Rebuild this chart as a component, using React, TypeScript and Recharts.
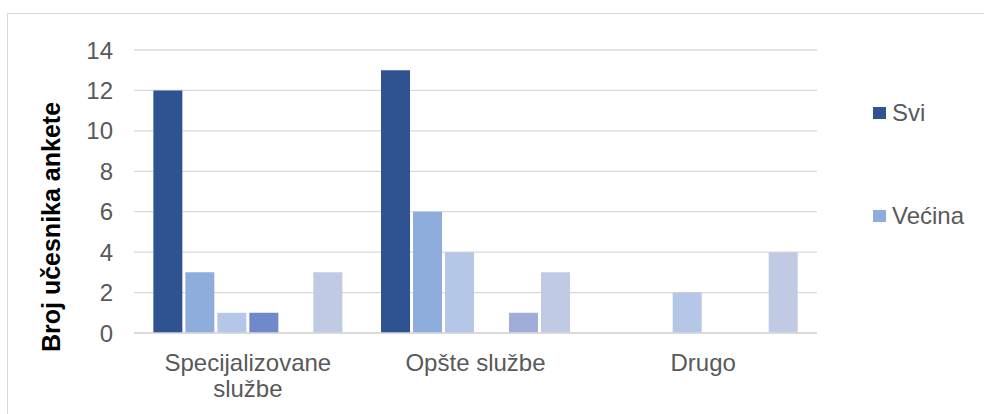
import { BarChart, Bar, XAxis, YAxis, CartesianGrid } from 'recharts';

const categories = ['Specijalizovane službe', 'Opšte službe', 'Drugo'];
const svi = [12, 13, 0];
const vecina = [3, 6, 0];
const polovina = [1, 4, 2];
const manjina = [1, 0, 0];
const malo = [0, 1, 0];
const nijedan = [3, 3, 4];
const yTicks = [0, 2, 4, 6, 8, 10, 12, 14];

const series = [
  { key: 'svi', name: 'Svi', color: '#2F5290', values: svi },
  { key: 'vecina', name: 'Većina', color: '#8FADDC', values: vecina },
  { key: 'polovina', name: 'Polovina', color: '#B4C7E7', values: polovina },
  { key: 'manjina', name: 'Manjina', color: '#6F89CB', values: manjina },
  { key: 'malo', name: 'Malo', color: '#9FADD8', values: malo },
  { key: 'nijedan', name: 'Nijedan', color: '#C0CAE5', values: nijedan },
];

// legenda je u originalu odsecena, vide se samo prve dve stavke
const legendShown = ['Svi', 'Većina'];

const data = categories.map((name, i) => {
  const row: Record<string, string | number> = { name };
  series.forEach((s) => {
    row[s.key] = s.values[i];
  });
  return row;
});

const FONT = '"Liberation Sans", Arial, sans-serif';

// dugacke nazive lomimo u dva reda kao Excel
function splitLabel(label: string) {
  if (label.length <= 14) return [label];
  const idx = label.lastIndexOf(' ');
  return [label.slice(0, idx), label.slice(idx + 1)];
}

function CategoryTick(props: any) {
  const { x, y, payload } = props;
  const lines = splitLabel(String(payload.value));
  return (
    <text x={x} y={y + 30} textAnchor="middle" fill="#595959" fontSize={24} fontFamily={FONT}>
      {lines.map((line, i) => (
        <tspan key={i} x={x} dy={i === 0 ? 0 : 26}>
          {line}
        </tspan>
      ))}
    </text>
  );
}

function YTitle() {
  const cx = 51;
  const cy = 227;
  return (
    <text
      x={cx}
      y={cy}
      transform={`rotate(-90, ${cx}, ${cy})`}
      textAnchor="middle"
      dominantBaseline="central"
      fill="#000"
      fontSize={25}
      fontWeight="bold"
      fontFamily={FONT}
    >
      Broj učesnika ankete
    </text>
  );
}

function LegendBox() {
  const items = series.filter((s) => legendShown.includes(s.name));
  return (
    <div style={{ position: 'absolute', left: 873, top: 99, fontFamily: FONT, fontSize: 24, color: '#595959' }}>
      {items.map((s, i) => (
        <div key={s.key} style={{ display: 'flex', alignItems: 'center', height: 28, marginTop: i === 0 ? 0 : 75 }}>
          <span style={{ display: 'inline-block', width: 13, height: 12, background: s.color, marginRight: 6 }} />
          <span>{s.name}</span>
        </div>
      ))}
    </div>
  );
}

export default function App() {
  return (
    <div style={{ position: 'absolute', left: 0, top: 0, width: 984, height: 414, overflow: 'hidden', background: '#fff' }}>
      <div
        style={{
          position: 'absolute',
          left: 7,
          top: 13,
          width: 1200,
          height: 600,
          borderLeft: '1px solid #d9d9d9',
          borderTop: '1px solid #d9d9d9',
        }}
      />
      <div style={{ position: 'absolute', left: 0, top: 0 }}>
        <BarChart
          width={984}
          height={414}
          data={data}
          margin={{ top: 50, right: 167, left: 34, bottom: 0 }}
          barCategoryGap="8.5%"
          barGap={3}
        >
          <CartesianGrid vertical={false} stroke="#d9d9d9" strokeWidth={1.3} />
          <XAxis
            dataKey="name"
            axisLine={{ stroke: '#d9d9d9', strokeWidth: 1.3 }}
            tickLine={false}
            tick={<CategoryTick />}
            interval={0}
            height={81}
          />
          <YAxis
            width={100}
            domain={[0, 14]}
            ticks={yTicks}
            axisLine={false}
            tickLine={false}
            tickMargin={15}
            tick={{ fill: '#595959', fontSize: 24, fontFamily: FONT }}
          />
          {series.map((s) => (
            <Bar key={s.key} dataKey={s.key} name={s.name} fill={s.color} isAnimationActive={false} />
          ))}
          <YTitle />
        </BarChart>
      </div>
      <LegendBox />
    </div>
  );
}
